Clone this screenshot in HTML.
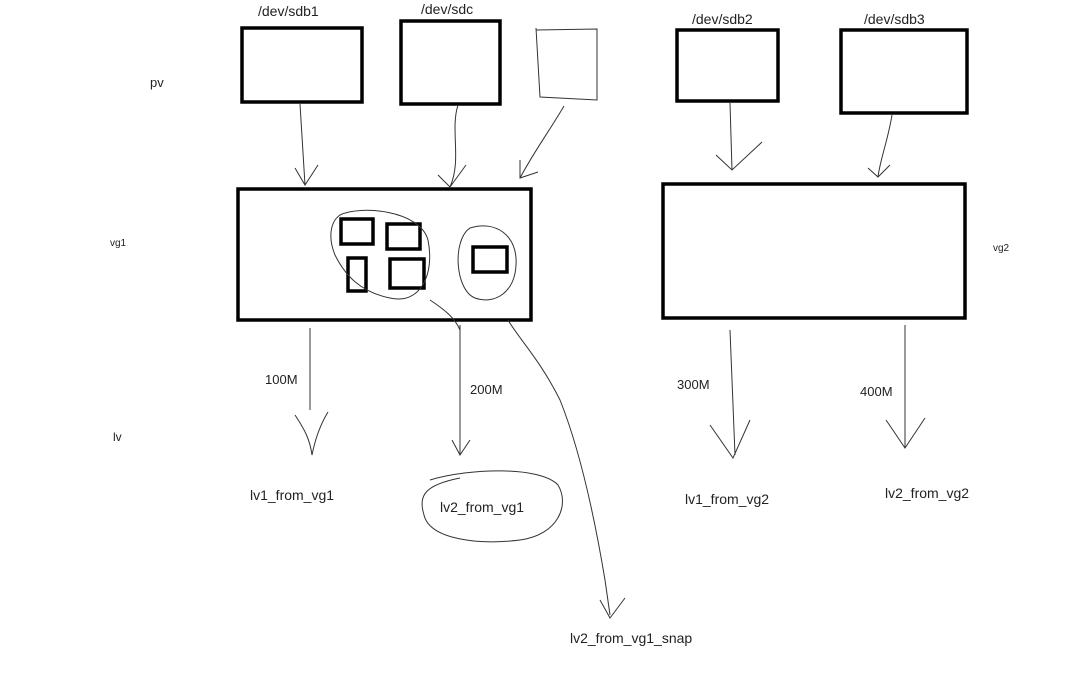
<!DOCTYPE html>
<html><head><meta charset="utf-8"><style>
html,body{margin:0;padding:0;background:#fff;}
svg{display:block;}
text{font-family:"Liberation Sans",sans-serif;fill:#222;}
</style></head><body>
<svg width="1072" height="678" viewBox="0 0 1072 678" xmlns="http://www.w3.org/2000/svg">
<g fill="none" stroke="#000" stroke-width="3.5">
<rect x="242" y="28" width="120" height="74"/>
<rect x="401" y="21" width="99" height="83"/>
<rect x="677" y="30" width="101" height="71"/>
<rect x="841" y="30" width="126" height="83"/>
<rect x="238" y="189" width="293" height="131"/>
<rect x="663" y="184" width="302" height="134"/>
<rect x="341" y="219" width="32" height="25"/>
<rect x="387" y="224" width="33" height="25"/>
<rect x="348" y="258" width="18" height="33"/>
<rect x="390" y="259" width="34" height="29"/>
<rect x="473" y="247" width="34" height="25"/>
</g>
<g fill="none" stroke="#333" stroke-width="1">
<path d="M536 30 L597 29 L597 100 L540 97 L536 28"/>
<path d="M340 215 C360 205 420 210 428 240 C435 275 420 305 390 298 C360 292 345 275 335 255 C328 238 330 222 340 215 Z"/>
<path d="M470 228 C495 220 518 235 516 265 C515 292 495 305 475 298 C455 290 452 240 470 228 Z"/>
<path d="M300 104 L305 185 M295 168 L305 185 L318 165"/>
<path d="M458 105 C450 130 462 160 450 187 M438 175 L450 187 L466 165"/>
<path d="M564 106 C550 130 535 150 520 178 M520 160 L520 178 L538 172"/>
<path d="M730 103 L732 170 M716 155 L732 170 L762 142"/>
<path d="M892 115 C888 140 880 160 878 177 M868 168 L878 177 L890 165"/>
<path d="M310 328 L310 410 M295 415 C305 430 310 440 312 455 C315 440 320 425 328 412"/>
<path d="M460 325 L460 455 M452 440 L460 455 L470 440"/>
<path d="M730 330 L735 455 M710 425 L733 458 L750 420"/>
<path d="M905 325 L905 448 M886 420 L905 448 L925 418"/>
<path d="M430 300 C445 310 455 318 460 330"/>
<path d="M508 320 C520 340 540 360 560 400 C580 450 595 520 605 580 L610 615 M600 600 L610 618 L625 598"/>
<path d="M430 480 C470 468 540 466 558 485 C570 505 558 535 520 540 C480 545 430 540 424 515 C418 495 425 485 460 478"/>
</g>
<g font-size="14">
<text x="258" y="16">/dev/sdb1</text>
<text x="421" y="14">/dev/sdc</text>
<text x="692" y="24">/dev/sdb2</text>
<text x="864" y="24">/dev/sdb3</text>
<text x="150" y="87" font-size="13">pv</text>
<text x="110" y="246" font-size="10">vg1</text>
<text x="993" y="251" font-size="10">vg2</text>
<text x="113" y="441" font-size="12" fill="#666">lv</text>
<text x="265" y="384" font-size="13">100M</text>
<text x="470" y="394" font-size="13" fill="#555">200M</text>
<text x="677" y="389" font-size="13" fill="#555">300M</text>
<text x="860" y="396" font-size="13" fill="#555">400M</text>
<text x="250" y="500" font-size="14">lv1_from_vg1</text>
<text x="440" y="512" font-size="14">lv2_from_vg1</text>
<text x="685" y="504" font-size="14" fill="#555">lv1_from_vg2</text>
<text x="885" y="498" font-size="14" fill="#555">lv2_from_vg2</text>
<text x="570" y="643" font-size="14" fill="#444">lv2_from_vg1_snap</text>
</g>
</svg>
</body></html>
